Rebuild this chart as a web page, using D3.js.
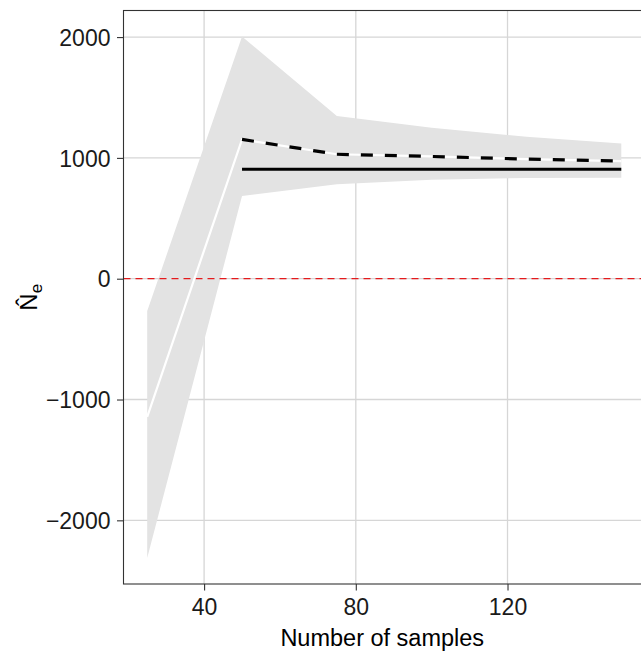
<!DOCTYPE html>
<html>
<head>
<meta charset="utf-8">
<script src="https://cdn.jsdelivr.net/npm/d3@7"></script>
<style>
  html, body { margin: 0; padding: 0; background: #fff; }
  svg { display: block; font-family: "Liberation Sans", Arial, sans-serif; }
</style>
</head>
<body>
<svg id="chart" width="641" height="652"></svg>
<script>
// ---- data ----
const samples     = [25, 50, 75, 100, 125, 150];
const ribbonLower = [-2311, 684, 781, 820, 833, 836];
const ribbonUpper = [-268, 2004, 1347, 1250, 1175, 1120];
const meanEst     = [-1143, 1153, 1030, 1012, 990, 974];
const trueNe      = [null, 905, 905, 905, 905, 905];
const xTicks = [40, 80, 120];
const yTicks = [-2000, -1000, 0, 1000, 2000];
const refLine = 0;

// ---- layout ----
const svg = d3.select("#chart");
const pL = 123.5, pR = 645, pT = 10.5, pB = 584;

const x = d3.scaleLinear().domain([18.75, 156.25]).range([pL, pR]);
const y = d3.scaleLinear().domain([-2527, 2220]).range([pB, pT]);

svg.append("defs").append("clipPath").attr("id", "panel")
  .append("rect").attr("x", pL).attr("y", pT)
  .attr("width", pR - pL).attr("height", pB - pT);

// grid
const grid = svg.append("g");
grid.selectAll(".gx").data(xTicks).join("line")
  .attr("x1", d => x(d)).attr("x2", d => x(d))
  .attr("y1", pT).attr("y2", pB)
  .attr("stroke", "#d6d6d6").attr("stroke-width", 1.3);
grid.selectAll(".gy").data(yTicks).join("line")
  .attr("y1", d => y(d)).attr("y2", d => y(d))
  .attr("x1", pL).attr("x2", pR)
  .attr("stroke", "#d6d6d6").attr("stroke-width", 1.3);

const pts = samples.map((s, i) => ({ s, lo: ribbonLower[i], hi: ribbonUpper[i], m: meanEst[i], t: trueNe[i] }));

const plot = svg.append("g").attr("clip-path", "url(#panel)");

// ribbon
plot.append("path").datum(pts)
  .attr("d", d3.area().x(d => x(d.s)).y0(d => y(d.lo)).y1(d => y(d.hi)))
  .attr("fill", "#e3e3e3");

// reference line at 0
plot.append("line")
  .attr("x1", pL).attr("x2", pR)
  .attr("y1", y(refLine)).attr("y2", y(refLine))
  .attr("stroke", "#e41a1c").attr("stroke-width", 1.3)
  .attr("stroke-dasharray", "7,5");

// white mean line (full range)
plot.append("path").datum(pts)
  .attr("d", d3.line().x(d => x(d.s)).y(d => y(d.m)))
  .attr("fill", "none").attr("stroke", "#ffffff").attr("stroke-width", 2.2);

// dashed mean line (from 50)
plot.append("path").datum(pts.filter(d => d.s >= 50))
  .attr("d", d3.line().x(d => x(d.s)).y(d => y(d.m)))
  .attr("fill", "none").attr("stroke", "#000").attr("stroke-width", 3.2)
  .attr("stroke-dasharray", "12,12");

// solid true line
plot.append("path").datum(pts.filter(d => d.t !== null))
  .attr("d", d3.line().x(d => x(d.s)).y(d => y(d.t)))
  .attr("fill", "none").attr("stroke", "#000").attr("stroke-width", 3);

// panel border
svg.append("rect").attr("x", pL).attr("y", pT)
  .attr("width", pR - pL).attr("height", pB - pT)
  .attr("fill", "none").attr("stroke", "#333").attr("stroke-width", 1.1);

// axes
const xAxis = svg.append("g").attr("transform", `translate(0,${pB})`)
  .call(d3.axisBottom(x).tickValues(xTicks).tickSize(6.5).tickPadding(8));
const yAxis = svg.append("g").attr("transform", `translate(${pL},0)`)
  .call(d3.axisLeft(y).tickValues(yTicks).tickSize(6.5).tickPadding(6.5)
    .tickFormat(d => d < 0 ? "\u2212" + Math.abs(d) : String(d)));
[xAxis, yAxis].forEach(a => {
  a.select(".domain").remove();
  a.selectAll(".tick line").attr("stroke", "#333").attr("stroke-width", 1.1);
  a.selectAll(".tick text").attr("fill", "#1a1a1a")
    .style("font-size", "23px").style("font-family", "Liberation Sans, Arial, sans-serif");
});
yAxis.selectAll(".tick text").attr("dy", "0.36em");

// axis titles
svg.append("text")
  .attr("x", (pL + pR) / 2 - 2).attr("y", 646)
  .attr("text-anchor", "middle").attr("fill", "#000")
  .style("font-size", "23.5px")
  .text("Number of samples");

const yt = svg.append("text")
  .attr("transform", `translate(37,${(pT + pB) / 2}) rotate(-90)`)
  .attr("text-anchor", "middle").attr("fill", "#000")
  .style("font-size", "24px");
yt.append("tspan").text("N\u0302");
yt.append("tspan").attr("dy", 5).style("font-size", "17px").text("e");
</script>
</body>
</html>
